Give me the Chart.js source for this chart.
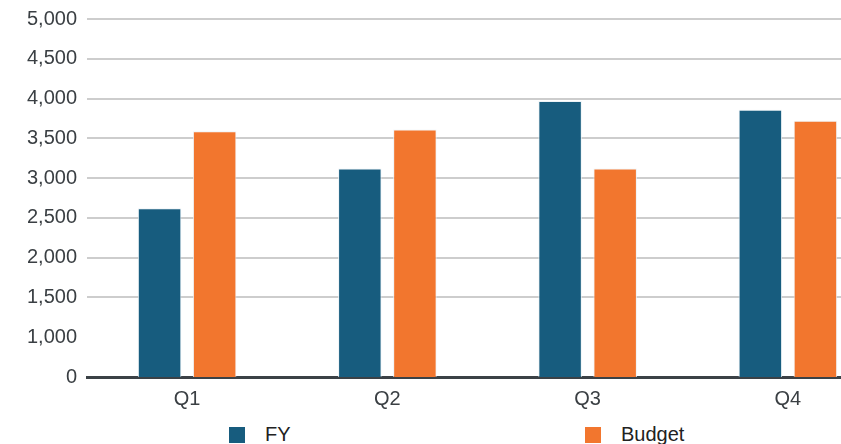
<!DOCTYPE html>
<html>
<head>
<meta charset="utf-8">
<title>FY vs Budget</title>
<script src="https://cdn.jsdelivr.net/npm/chart.js@4/dist/chart.umd.min.js"></script>
<style>
  html, body { margin: 0; padding: 0; background: #fff; overflow: hidden; }
  #wrap { position: relative; width: 900px; height: 444px; overflow: hidden; }
  #box { position: absolute; left: 0; top: -3px; width: 900px; height: 418px; }
  #legend { position: absolute; top: 423px; left: 0; width: 900px; height: 20px;
            font-family: "Liberation Sans", Arial, sans-serif; font-size: 20px; color: #222; }
  #legend .item { position: absolute; top: 0; display: flex; align-items: center; }
  #legend .swatch { width: 16px; height: 16px; margin-right: 20px; }
</style>
</head>
<body>
<div id="wrap">
  <div id="box"><canvas id="chart"></canvas></div>
  <div id="legend"></div>
</div>
<script>
const quarters = ["Q1", "Q2", "Q3", "Q4"];
const fyValues = [2620, 3120, 3970, 3860];
const budgetValues = [3590, 3610, 3120, 3720];
const seriesNames = ["FY", "Budget"];
const seriesColors = ["#175c7e", "#f2762e"];

// legend item x offsets (px from left)
const legendLeft = [229, 585];

const chart = new Chart(document.getElementById("chart"), {
    type: "bar",
    data: {
        labels: quarters,
        datasets: [
            { label: seriesNames[0], data: fyValues, backgroundColor: seriesColors[0] },
            { label: seriesNames[1], data: budgetValues, backgroundColor: seriesColors[1] }
        ]
    },
    options: {
        responsive: true,
        maintainAspectRatio: false,
        animation: false,
        devicePixelRatio: 1,
        layout: { padding: { top: 0, right: 12, left: 0, bottom: 0 } },
        datasets: {
            bar: {
                categoryPercentage: 0.55,
                barPercentage: 0.79,
                borderWidth: 1,
                borderColor: "rgba(235,242,246,0.9)"
            }
        },
        plugins: {
            legend: { display: false },
            tooltip: { enabled: false }
        },
        scales: {
            x: {
                grid: { display: false },
                border: { display: true, color: "#3b4146", width: 3 },
                ticks: {
                    color: "#3a3f43",
                    padding: 2,
                    font: { family: "Liberation Sans", size: 20 }
                },
                afterFit(scale) { scale.height = 38; }
            },
            y: {
                min: 500,
                max: 5000,
                border: { display: false },
                grid: {
                    drawTicks: false,
                    lineWidth: 2,
                    // no line at 1,000 and the 500 line sits under the axis
                    color: ctx => (ctx.tick && (ctx.tick.value === 1000 || ctx.tick.value === 500)) ? "rgba(0,0,0,0)" : "#cdcdcd"
                },
                ticks: {
                    stepSize: 500,
                    color: "#3a3f43",
                    padding: 10,
                    font: { family: "Liberation Sans", size: 20 },
                    callback: v => v === 500 ? "0" : v.toLocaleString("en-US")
                },
                afterFit(scale) { scale.width = 87; }
            }
        }
    }
});

// legend built from the datasets
const legend = document.getElementById("legend");
chart.data.datasets.forEach((ds, i) => {
    const item = document.createElement("div");
    item.className = "item";
    item.style.left = legendLeft[i] + "px";
    item.innerHTML = `<span class="swatch" style="background:${ds.backgroundColor}"></span><span>${ds.label}</span>`;
    legend.appendChild(item);
});
</script>
</body>
</html>
